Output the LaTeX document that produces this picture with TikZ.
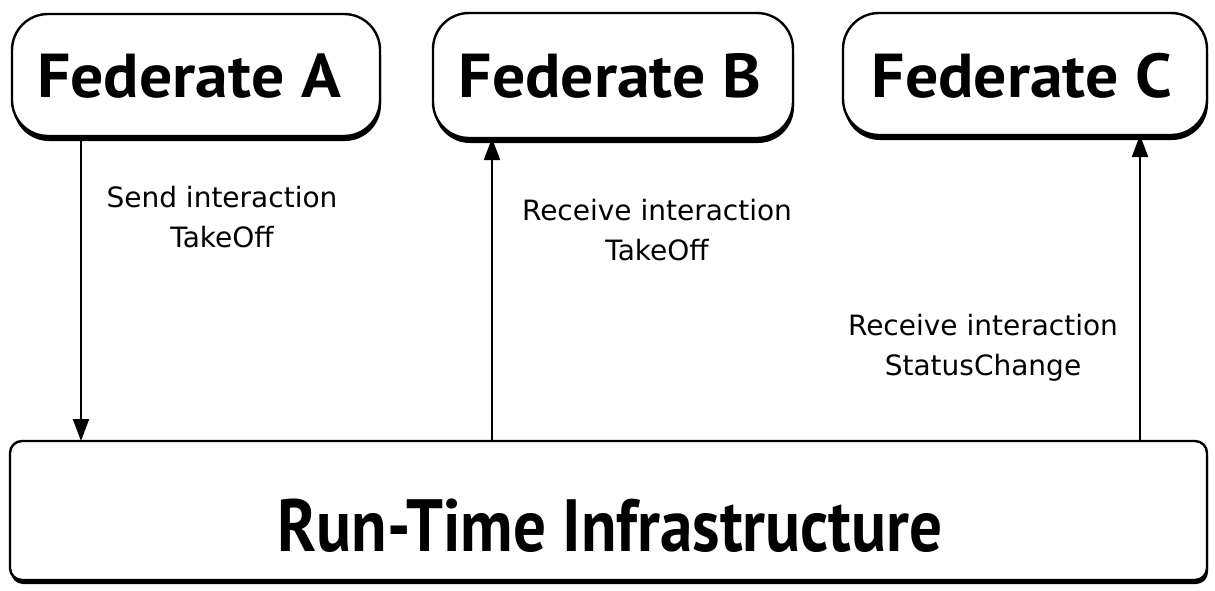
\documentclass[tikz,border=0pt]{standalone}
\usepackage{fontspec}
\usetikzlibrary{arrows.meta}
\newfontfamily\titlefont{PT Sans}
\newfontfamily\labelfont{DejaVu Sans}
\begin{document}
\begin{tikzpicture}[x=1pt,y=-1pt,
  box/.style={draw=black,line width=2.4pt,fill=white},
  shade/.style={fill=black},
  flow/.style={line width=2pt,-{Triangle[length=22pt,width=16pt]}},
  title/.style={font=\titlefont\bfseries\fontsize{62}{66}\selectfont,inner sep=0pt,xscale=1.06},
  note/.style={font=\labelfont\fontsize{28}{40}\selectfont,align=center,inner sep=0pt}]
\useasboundingbox (0,0) rectangle (1215,590);

% federates: dark drop shadow under each rounded box
\foreach \l/\r/\t/\b in {12/380/14/136, 433/793/13/138, 843/1207/13/135}{
  \fill[shade,rounded corners=36pt] (\l+1,\t+5) rectangle (\r+1,\b+5);
}
\draw[box,rounded corners=36pt] (12,14) rectangle (380,136);
\draw[box,rounded corners=36pt] (433,13) rectangle (793,138);
\draw[box,rounded corners=36pt] (843,13) rectangle (1207,135);
\node[title,anchor=base] (fa) at (189,97) {Federate A};
\node[title,anchor=base] (fb) at (610,97) {Federate B};
\node[title,anchor=base] (fc) at (1022,97) {Federate C};
\coordinate (fabot) at (81,136);
\coordinate (fbbot) at (492,138);
\coordinate (fcbot) at (1140,135);

% run-time infrastructure
\fill[shade,rounded corners=12pt] (11,445) rectangle (1208,584);
\draw[box,rounded corners=12pt] (10,441) rectangle (1207,580);
\node[font=\titlefont\bfseries\fontsize{74}{78}\selectfont,inner sep=0pt,xscale=0.88,anchor=base] (rti) at (610,551) {Run-Time Infrastructure};
\coordinate (rtia) at (81,441);
\coordinate (rtib) at (492,441);
\coordinate (rtic) at (1140,441);

% interactions
\draw[flow] (fabot) -- (rtia);
\draw[flow] (rtib) -- (fbbot);
\draw[flow] (rtic) -- (fcbot);

% labels: the base anchor sits on the last line
\node[note,anchor=base] (la) at (222,247) {Send interaction\\TakeOff};
\node[note,anchor=base] (lb) at (657,260) {Receive interaction\\TakeOff};
\node[note,anchor=base] (lc) at (983,375) {Receive interaction\\StatusChange};
\end{tikzpicture}
\end{document}
